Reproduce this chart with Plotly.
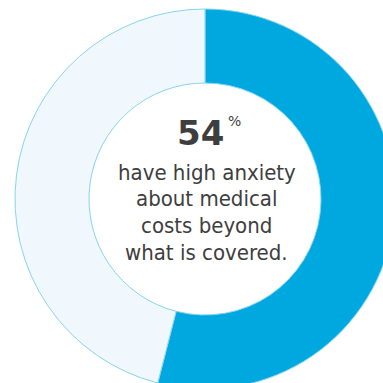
import plotly.graph_objects as go

# Share of respondents with high anxiety about uncovered medical costs
labels = ["High anxiety", "Other"]
values = [54, 46]
headline = "54"
unit = "%"
caption_lines = ["have high anxiety", "about medical", "costs beyond", "what is covered."]

BLUE = "#00A8E0"
PALE = "#F0F8FE"
EDGE = "#86D4F1"
INK = "#3E3E3E"

W = H = 400  # canvas slightly wider than the viewport so the ring runs off the edge
cx, cy, r = 205, 199, 190  # ring centre and outer radius, in px from top-left

fig = go.Figure(
    go.Pie(
        labels=labels,
        values=values,
        sort=False,
        direction="clockwise",
        rotation=0,
        hole=116 / 190,
        marker=dict(colors=[BLUE, PALE], line=dict(color=EDGE, width=1)),
        textinfo="none",
        hoverinfo="skip",
        showlegend=False,
        domain=dict(
            x=[(cx - r) / W, (cx + r) / W],
            y=[(H - cy - r) / H, (H - cy + r) / H],
        ),
    )
)

fig.add_annotation(
    x=201 / W, y=(H - 133) / H, xref="paper", yref="paper",
    text=f"<b>{headline}</b>",
    showarrow=False,
    font=dict(family="DejaVu Sans", size=34, color=INK),
    xanchor="center", yanchor="middle",
)
fig.add_annotation(
    x=234 / W, y=(H - 121) / H, xref="paper", yref="paper",
    text=unit,
    showarrow=False,
    font=dict(family="DejaVu Sans", size=14, color=INK),
    xanchor="center", yanchor="middle",
)

# caption set line by line for tight leading
first_line_px, leading_px = 172, 26.7
for i, line in enumerate(caption_lines):
    fig.add_annotation(
        x=207 / W, y=(H - (first_line_px + i * leading_px)) / H,
        xref="paper", yref="paper",
        text=line,
        showarrow=False,
        font=dict(family="DejaVu Sans Condensed, Arial", size=22, color=INK),
        xanchor="center", yanchor="middle",
    )

fig.update_layout(
    width=W, height=H,
    margin=dict(l=0, r=0, t=0, b=0),
    paper_bgcolor="white",
    plot_bgcolor="white",
)

fig.write_html(
    "out.html",
    post_script="document.body.style.margin='0';document.body.style.overflow='hidden';",
)
